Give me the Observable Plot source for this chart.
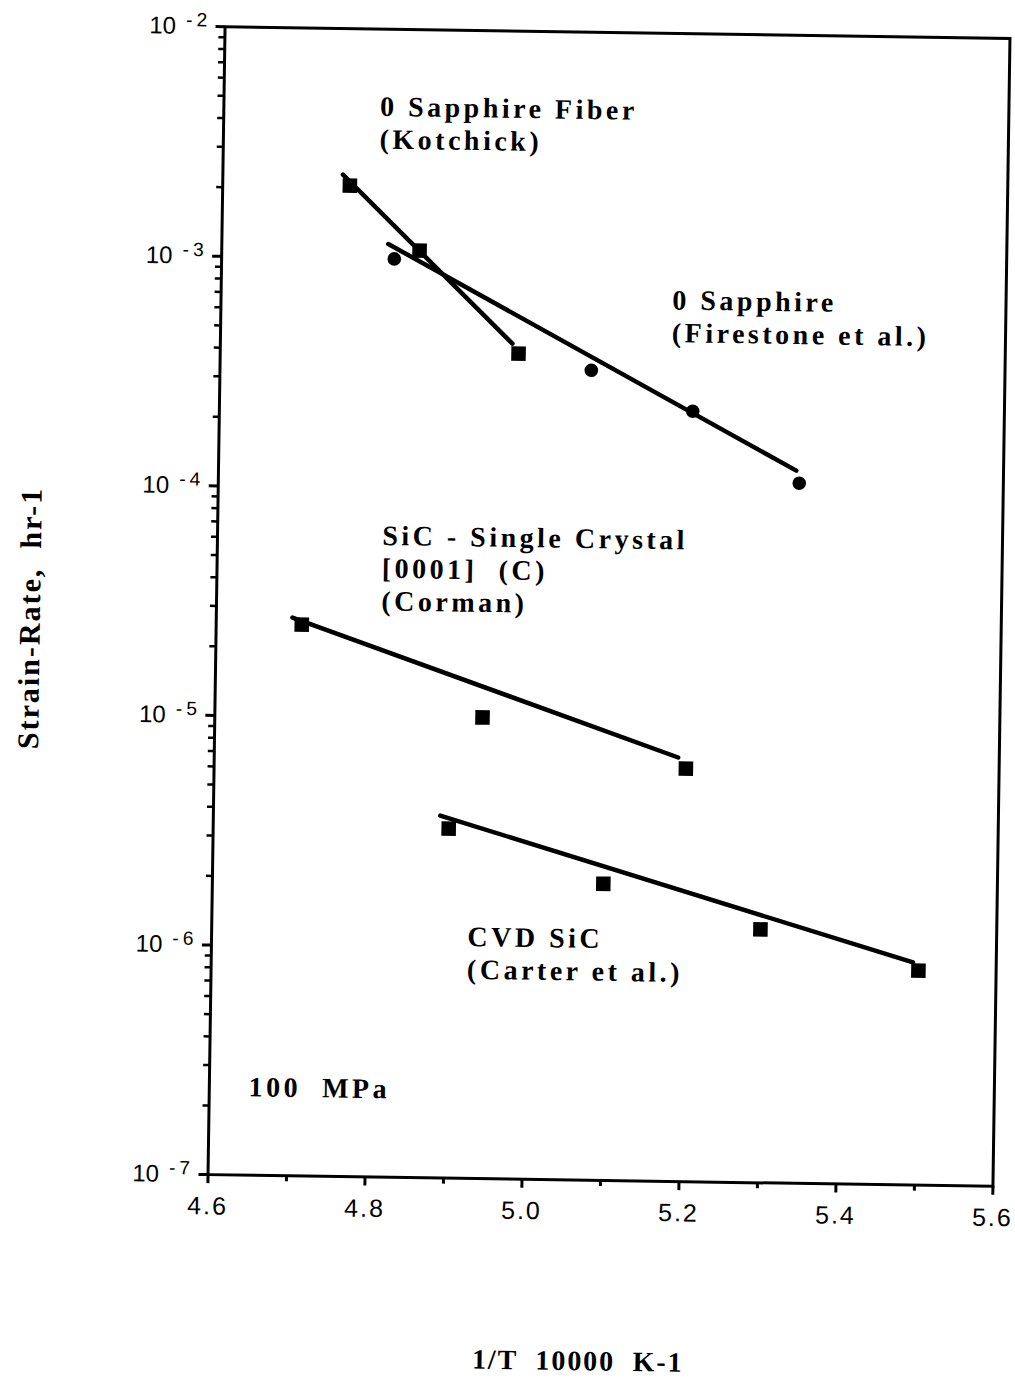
<!DOCTYPE html>
<html><head><meta charset="utf-8">
<script src="https://cdn.jsdelivr.net/npm/d3@7"></script>
<script src="https://cdn.jsdelivr.net/npm/@observablehq/plot@0.6"></script>
<style>body{margin:0;background:#fff;overflow:hidden}</style>
</head><body><div id="chart"></div>
<script>
// ---- data (x = 1/T * 10000, y = strain rate hr^-1)
const kotchickX = [4.762, 4.852, 4.980];
const kotchickY = [2.07e-3, 1.09e-3, 3.94e-4];
const kotchickFitX = [4.753, 4.972];
const kotchickFitY = [2.31e-3, 4.35e-4];

const firestoneX = [4.820, 5.073, 5.203, 5.340];
const firestoneY = [1.00e-3, 3.37e-4, 2.27e-4, 1.12e-4];
const firestoneFitX = [4.812, 5.336];
const firestoneFitY = [1.16e-3, 1.27e-4];

const cormanX = [4.709, 4.941, 5.201];
const cormanY = [2.52e-5, 1.02e-5, 6.3e-6];
const cormanFitX = [4.697, 5.191];
const cormanFitY = [2.70e-5, 7.03e-6];

const carterX = [4.900, 5.098, 5.299, 5.501];
const carterY = [3.33e-6, 1.96e-6, 1.27e-6, 8.6e-7];
const carterFitX = [4.889, 5.494];
const carterFitY = [3.79e-6, 9.33e-7];

const xTicks = [4.6, 4.8, 5.0, 5.2, 5.4, 5.6];
const xMinorTicks = [4.7, 4.9, 5.1, 5.3, 5.5];
const yTicks = [1e-7, 1e-6, 1e-5, 1e-4, 1e-3, 1e-2];

const labelTexts = ["0 Sapphire Fiber\n(Kotchick)", "0 Sapphire\n(Firestone et al.)",
  "SiC - Single Crystal\n[0001]  (C)\n(Corman)", "CVD SiC\n(Carter et al.)", "100  MPa"];
const labelX = [4.799, 5.175, 4.810, 4.926, 4.650];
const labelY = [5.29e-3, 7.93e-4, 7.16e-5, 1.30e-6, 2.79e-7];

const xTitle = "1/T  10000  K-1";
const yTitle = "Strain-Rate,  hr-1";

// ---- tables built from the arrays
const pts = (xs, ys, series, shape) => xs.map((x, i) => ({x, y: ys[i], series, shape}));
const points = [
  ...pts(kotchickX, kotchickY, "Kotchick", "square"),
  ...pts(firestoneX, firestoneY, "Firestone", "circle"),
  ...pts(cormanX, cormanY, "Corman", "square"),
  ...pts(carterX, carterY, "Carter", "square")
];
const fits = [
  ...pts(kotchickFitX, kotchickFitY, "Kotchick"),
  ...pts(firestoneFitX, firestoneFitY, "Firestone"),
  ...pts(cormanFitX, cormanFitY, "Corman"),
  ...pts(carterFitX, carterFitY, "Carter")
];
const labels = labelTexts.map((t, i) => ({t, x: labelX[i], y: labelY[i]}));
const yMinorTicks = [];
for (let e = -7; e < -2; e++) for (let m = 2; m <= 9; m++) yMinorTicks.push(m * Math.pow(10, e));

const serif = "'Liberation Serif', 'Times New Roman', serif";
const sans = "'Liberation Sans', Arial, sans-serif";
const none = () => "";

const chart = Plot.plot({
  width: 1015,
  height: 1393,
  marginLeft: 216,
  marginRight: 14,
  marginTop: 32,
  marginBottom: 213,
  style: {background: "white", color: "black", overflow: "visible"},
  x: {domain: [4.6, 5.6]},
  y: {type: "log", domain: [1e-7, 1e-2]},
  marks: [
    Plot.frame({stroke: "black", strokeWidth: 3}),
    Plot.axisX({ticks: xTicks, tickSize: 9, tickPadding: 13, strokeWidth: 3,
      tickFormat: d3.format(".1f"), fontSize: 25, fontFamily: sans, label: null}),
    Plot.axisX({ticks: xMinorTicks, tickSize: 6, strokeWidth: 3, tickFormat: none, label: null}),
    Plot.axisY({ticks: yTicks, tickSize: 9, tickPadding: 9, strokeWidth: 3,
      tickFormat: d => String(Math.round(Math.log10(d))), fontSize: 24, fontFamily: sans, label: null}),
    Plot.axisY({ticks: yMinorTicks, tickSize: 6, strokeWidth: 2.5, tickFormat: none, label: null}),
    Plot.line(fits, {x: "x", y: "y", z: "series", stroke: "black", strokeWidth: 4.5}),
    Plot.dot(points.filter(d => d.shape === "square"), {x: "x", y: "y", symbol: "square", fill: "black", r: 8.2}),
    Plot.dot(points.filter(d => d.shape === "circle"), {x: "x", y: "y", symbol: "circle", fill: "black", r: 6.8}),
    Plot.text(labels, {x: "x", y: "y", text: "t", textAnchor: "start", lineAnchor: "top",
      lineHeight: 1.17, fontSize: 28, fontWeight: "bold", fontFamily: serif, fill: "black"}),
    Plot.text([xTitle], {frameAnchor: "bottom", dx: -20, dy: 190, textAnchor: "middle", lineAnchor: "bottom",
      fontSize: 28, fontWeight: "bold", fontFamily: serif, fill: "black"}),
    Plot.text([yTitle], {frameAnchor: "left", dx: -186, dy: 20, rotate: -90, textAnchor: "middle", lineAnchor: "middle",
      fontSize: 30, fontWeight: "bold", fontFamily: serif, fill: "black"})
  ]
});

// letter spacing for the serif texts and x tick labels, superscript exponent for y ticks
const textGroups = d3.select(chart).selectAll('g[aria-label="text"]').nodes();
d3.select(textGroups[0]).selectAll("text").style("letter-spacing", "3.5px");
d3.select(textGroups[1]).selectAll("text").style("letter-spacing", "1.9px");
d3.select(textGroups[2]).selectAll("text").style("letter-spacing", "2px");
d3.select(chart).selectAll('g[aria-label="x-axis tick label"] text').style("letter-spacing", "2px");
d3.select(chart).selectAll('g[aria-label="y-axis tick label"] text').each(function() {
  const exp = this.textContent;
  if (!exp) return;
  const sign = exp.startsWith("-") ? "-" : "";
  const digits = exp.replace("-", "");
  this.textContent = "";
  const t = d3.select(this);
  t.append("tspan").text("10");
  t.append("tspan").attr("dy", "-0.4em").attr("font-size", "0.8em").attr("dx", "10").text(sign);
  t.append("tspan").attr("font-size", "0.8em").attr("dx", "4").text(digits);
});
// the scanned original sits slightly rotated on the page
chart.style.transformOrigin = "608px 606px";
chart.style.transform = "rotate(0.85deg)";
document.getElementById("chart").append(chart);
</script>
</body></html>
